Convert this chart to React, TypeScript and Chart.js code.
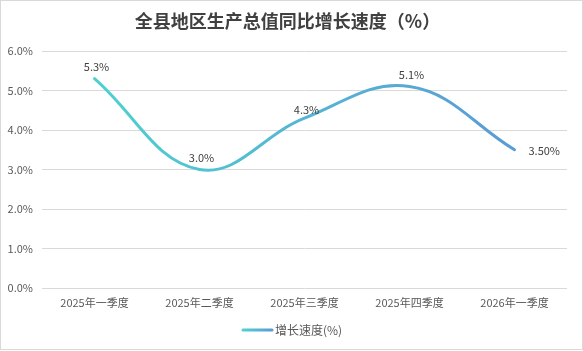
import React, { useEffect, useRef } from "react";
import { Chart, registerables } from "chart.js";

Chart.register(...registerables);

const categories = ["2025年一季度", "2025年二季度", "2025年三季度", "2025年四季度", "2026年一季度"];
const growthValues = [5.3, 3.0, 4.3, 5.1, 3.5];
const valueLabels = ["5.3%", "3.0%", "4.3%", "5.1%", "3.50%"];
const seriesName = "增长速度(%)";
const titleText = "全县地区生产总值同比增长速度（%）";
const yMin = 0;
const yMax = 6;
const yStep = 1;

const FONT = "'Noto Sans CJK SC', 'Noto Sans', sans-serif";
const C_START = "#4FD0D0";
const C_END = "#5B9BD5";

function makeGrad(ctx: CanvasRenderingContext2D, x0: number, x1: number) {
  if (!isFinite(x0) || !isFinite(x1) || x0 === x1) return C_START;
  const g = ctx.createLinearGradient(x0, 0, x1, 0);
  g.addColorStop(0, C_START);
  g.addColorStop(1, C_END);
  return g;
}

const overlayPlugin = {
  id: "overlay",
  afterDatasetsDraw(chart: any) {
    const ctx: CanvasRenderingContext2D = chart.ctx;
    const meta = chart.getDatasetMeta(0);
    ctx.save();
    ctx.font = `11px ${FONT}`;
    ctx.fillStyle = "#404040";
    meta.data.forEach((pt: any, i: number) => {
      const last = i === meta.data.length - 1;
      ctx.textBaseline = "middle";
      if (last) {
        ctx.textAlign = "left";
        ctx.fillText(valueLabels[i], pt.x + 14, pt.y + 1);
      } else {
        ctx.textAlign = "center";
        const dy = i === 2 ? 8 : 12;
        ctx.fillText(valueLabels[i], pt.x + 2, pt.y - dy);
      }
    });
    ctx.restore();
  },
  afterDraw(chart: any) {
    const ctx: CanvasRenderingContext2D = chart.ctx;
    ctx.save();
    ctx.font = `bold 18px ${FONT}`;
    ctx.fillStyle = "#404040";
    ctx.textAlign = "center";
    ctx.textBaseline = "middle";
    ctx.fillText(titleText, 286.5, 20);
    const lx0 = 242, lx1 = 271, ly = 329;
    ctx.strokeStyle = makeGrad(ctx, lx0, lx1);
    ctx.lineWidth = 3;
    ctx.lineCap = "round";
    ctx.beginPath();
    ctx.moveTo(lx0, ly);
    ctx.lineTo(lx1, ly);
    ctx.stroke();
    ctx.font = `12px ${FONT}`;
    ctx.fillStyle = "#595959";
    ctx.textAlign = "left";
    ctx.fillText(seriesName, 274, ly);
    ctx.restore();
  },
};

export default function App() {
  const ref = useRef<HTMLCanvasElement | null>(null);
  useEffect(() => {
    document.body.style.margin = "0";
    const canvas = ref.current!;
    const chart = new Chart(canvas, {
      type: "line",
      data: {
        labels: categories,
        datasets: [
          {
            label: seriesName,
            data: growthValues,
            borderColor: (c: any) => {
              const ch = c.chart;
              const ca = ch.chartArea;
              const xs = ch.scales && ch.scales.x;
              if (!ca || !xs) return C_START;
              const x0 = xs.getPixelForValue(0);
              const x1 = xs.getPixelForValue(categories.length - 1);
              return makeGrad(ch.ctx, x0, x1);
            },
            borderWidth: 3,
            tension: 0.4,
            pointRadius: 0,
            pointHoverRadius: 0,
            fill: false,
            borderCapStyle: "round",
          },
        ],
      },
      options: {
        responsive: false,
        animation: false,
        devicePixelRatio: 1,
        layout: { padding: { top: 50, left: 0, right: 15, bottom: 31 } },
        plugins: {
          legend: { display: false },
          title: { display: false },
          tooltip: { enabled: false },
        },
        scales: {
          x: {
            offset: true,
            grid: { display: false, drawTicks: false },
            border: { display: false },
            ticks: {
              color: "#595959",
              font: { size: 11, family: FONT },
              padding: 8,
              maxRotation: 0,
              autoSkip: false,
            },
            afterFit: (s: any) => {
              s.height = 30;
            },
          },
          y: {
            min: yMin,
            max: yMax,
            grid: { color: "#D9D9D9", drawTicks: false, lineWidth: 1 },
            border: { display: false },
            ticks: {
              stepSize: yStep,
              color: "#595959",
              font: { size: 11, family: FONT },
              padding: 9,
              callback: (v: any) => Number(v).toFixed(1) + "%",
            },
            afterFit: (s: any) => {
              s.width = 41;
            },
          },
        },
      },
      plugins: [overlayPlugin],
    } as any);
    return () => chart.destroy();
  }, []);
  return (
    <div
      style={{
        position: "absolute",
        left: 0,
        top: 0,
        width: 583,
        height: 350,
        border: "1px solid #D9D9D9",
        boxSizing: "border-box",
        background: "#fff",
      }}
    >
      <canvas ref={ref} width={581} height={348} style={{ display: "block", width: 581, height: 348 }} />
    </div>
  );
}
